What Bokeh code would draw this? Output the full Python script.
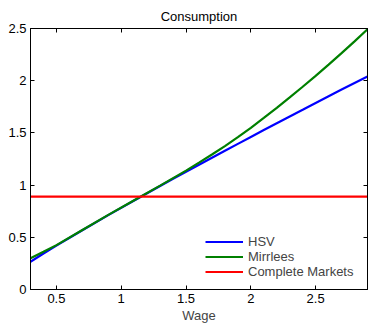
from bokeh.plotting import figure
from bokeh.models import (Range1d, LinearAxis, FixedTicker, Legend, LegendItem,
                          CustomLabelingPolicy)
from bokeh.embed import file_html
from bokeh.resources import INLINE

# Consumption as a function of the wage under three allocations
wage = [0.3, 0.4, 0.5, 0.7, 0.9, 1.1, 1.3, 1.4, 1.5, 1.6, 1.7, 1.8, 1.9, 2.0,
        2.1, 2.2, 2.3, 2.4, 2.5, 2.6, 2.7, 2.8, 2.9]
hsv = [0.265, 0.345, 0.42, 0.568, 0.712, 0.853, 0.992, 1.060, 1.128, 1.195,
       1.262, 1.329, 1.395, 1.461, 1.527, 1.593, 1.658, 1.722, 1.787, 1.851,
       1.915, 1.978, 2.04]
mirrlees = [0.30, 0.362, 0.425, 0.57, 0.715, 0.855, 0.995, 1.067, 1.139,
            1.215, 1.293, 1.374, 1.459, 1.549, 1.643, 1.740, 1.840, 1.942,
            2.047, 2.154, 2.264, 2.377, 2.493]
complete_wage = [0.3, 2.9]
complete_markets = [0.89, 0.89]

x_ticks = [0.5, 1, 1.5, 2, 2.5]
x_tick_labels = ["0.5", "1", "1.5", "2", "2.5"]
y_ticks = [0, 0.5, 1, 1.5, 2, 2.5]
y_tick_labels = ["0", "0.5", "1", "1.5", "2", "2.5"]

FONT = "Liberation Sans"
FS = "13px"

p = figure(width=368, height=325, output_backend="svg", toolbar_location=None,
           x_range=Range1d(0.3, 2.9), y_range=Range1d(0, 2.5),
           min_border_left=30, min_border_right=1, min_border_top=28,
           min_border_bottom=36, title="Consumption")

p.title.align = "center"
p.title.text_font = FONT
p.title.text_font_size = FS
p.title.text_font_style = "normal"
p.title.text_color = "black"
p.title.standoff = 10

p.xgrid.visible = False
p.ygrid.visible = False
p.outline_line_color = "black"
p.background_fill_color = "white"
p.border_fill_color = "white"


def style_axis(ax, ticks, labels, show_labels=True):
    ax.ticker = FixedTicker(ticks=ticks)
    ax.major_tick_in = 4
    ax.major_tick_out = 0
    ax.minor_tick_line_color = None
    ax.axis_line_color = "black"
    ax.major_tick_line_color = "black"
    ax.major_label_text_font = FONT
    ax.major_label_text_color = "black"
    if show_labels:
        ax.major_label_overrides = {float(t): s for t, s in zip(ticks, labels)}
        ax.major_label_text_font_size = FS
        ax.major_label_standoff = 4
    else:
        # tick marks only on the box sides, no numbers
        ax.major_label_policy = CustomLabelingPolicy(code="return []")
        ax.major_label_text_font_size = "0px"
        ax.major_label_standoff = 0


style_axis(p.xaxis[0], x_ticks, x_tick_labels)
style_axis(p.yaxis[0], y_ticks, y_tick_labels)
p.xaxis.axis_label = "Wage"
p.xaxis.axis_label_text_font = FONT
p.xaxis.axis_label_text_font_size = FS
p.xaxis.axis_label_text_font_style = "normal"
p.xaxis.axis_label_standoff = 2

top = LinearAxis()
style_axis(top, x_ticks, x_tick_labels, show_labels=False)
p.add_layout(top, "above")
right = LinearAxis()
style_axis(right, y_ticks, y_tick_labels, show_labels=False)
p.add_layout(right, "right")

r_hsv = p.line(wage, hsv, line_color="#0000ff", line_width=2.2)
r_mir = p.line(wage, mirrlees, line_color="#008000", line_width=2.2)
r_cm = p.line(complete_wage, complete_markets, line_color="#ff0000", line_width=2.2)

legend = Legend(items=[LegendItem(label="HSV", renderers=[r_hsv]),
                       LegendItem(label="Mirrlees", renderers=[r_mir]),
                       LegendItem(label="Complete Markets", renderers=[r_cm])],
                location=(175, 10))
legend.border_line_alpha = 0
legend.background_fill_alpha = 1
legend.padding = 0
legend.margin = 0
legend.spacing = 0
legend.glyph_width = 38
legend.glyph_height = 15
legend.label_height = 15
legend.label_standoff = 5
legend.label_text_font = FONT
legend.label_text_font_size = FS
p.add_layout(legend, "center")

open("out.html", "w").write(file_html(p, INLINE))
